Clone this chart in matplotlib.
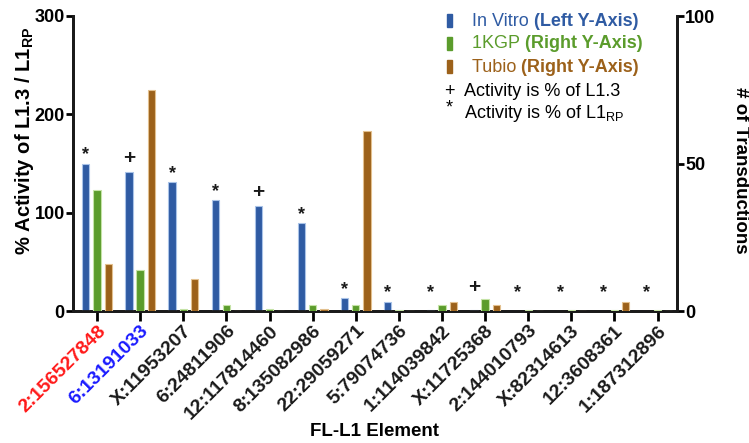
import matplotlib
matplotlib.use("Agg")
import matplotlib.pyplot as plt
import numpy as np
from matplotlib.patches import Rectangle

plt.rcParams['font.family'] = ['Liberation Sans', 'DejaVu Sans']

elements = ["2:156527848", "6:13191033", "X:11953207", "6:24811906",
            "12:117814460", "8:135082986", "22:29059271", "5:79074736",
            "1:114039842", "X:11725368", "2:144010793", "X:82314613",
            "12:3608361", "1:187312896"]
label_colors = ["#ff1a1a", "#1a1aff"] + ["#1a1a1a"] * 12

# in vitro activity (left axis, %)
in_vitro = [150, 141, 131, 113, 107, 89, 13.5, 9.5, 1.5, 1.2, 0, 0, 0, 0]
# 1KGP transductions (right axis)
kgp = [41, 14, 0.6, 2, 0.6, 2, 2, 0.4, 2, 4, 0.4, 0.4, 0.4, 0.4]
# Tubio transductions (right axis)
tubio = [16, 75, 11, 0, 0, 0.8, 61, 0, 3, 2, 0, 0, 3, 0]
# reference used for activity
marks = ["*", "+", "*", "*", "+", "*", "*", "*", "*", "+", "*", "*", "*", "*"]

blue = "#2f5ba3"
green = "#5b9c2c"
brown = "#9c611a"

fig = plt.figure(figsize=(7.49, 4.43), dpi=100)
ax = fig.add_axes([73 / 749, 1 - 311 / 443, (677 - 73) / 749, (311 - 16) / 443])
ax2 = ax.twinx()

x = np.arange(len(elements))
w = 0.17
off = 0.26

ax.bar(x - off, in_vitro, w, color=blue, edgecolor="#a9c3e8", linewidth=0.8, zorder=3)
ax2.bar(x, kgp, w, color=green, edgecolor="#c5e3a6", linewidth=0.8, zorder=3)
ax2.bar(x + off, tubio, w, color=brown, edgecolor="#e3c08e", linewidth=0.8, zorder=3)

for xi, v, m in zip(x, in_vitro, marks):
    y = max(v, 10)
    if m == "+":
        ax.annotate("+", (xi - off, y), xytext=(0, 3), textcoords="offset points",
                    ha="center", va="bottom", fontsize=15, fontweight="bold", color="#1a1a1a")
    else:
        ax.annotate("*", (xi - off, y), xytext=(0, 0), textcoords="offset points",
                    ha="center", va="bottom", fontsize=13, fontweight="bold", color="#1a1a1a")

ax.set_xlim(-0.557, 13.45)
ax.set_ylim(0, 300)
ax2.set_ylim(0, 100)
ax.set_yticks([0, 100, 200, 300])
ax2.set_yticks([0, 50, 100])

for a in (ax, ax2):
    a.spines["top"].set_visible(False)
    for s in ("left", "right", "bottom"):
        a.spines[s].set_linewidth(2)
        a.spines[s].set_color("#1a1a1a")
ax.tick_params(axis="y", length=5, width=2, labelsize=13, pad=1)
ax2.tick_params(axis="y", length=5, width=2, labelsize=13, pad=1)
for t in ax.get_yticklabels() + ax2.get_yticklabels():
    t.set_fontweight("bold")

ax.set_xticks(x)
ax.set_xticklabels(elements, rotation=45, ha="right", rotation_mode="anchor",
                   fontsize=14, fontweight="bold")
for t, c in zip(ax.get_xticklabels(), label_colors):
    t.set_color(c)
ax.tick_params(axis="x", length=7, width=2, pad=1)

fig.text(24 / 749, 1 - 141 / 443, "% Activity of L1.3 / L1$_{\\mathregular{RP}}$",
         fontsize=14.5, fontweight="bold", rotation=90, ha="center", va="center",
         rotation_mode="anchor")
fig.text(741 / 749, 1 - 170 / 443, "# of Transductions", fontsize=13.5,
         fontweight="bold", rotation=270, ha="center", va="center",
         rotation_mode="anchor")
fig.text(374 / 749, 1 - 432 / 443, "FL-L1 Element", ha="center", va="center",
         fontsize=13.5, fontweight="bold")

# legend
rows = [("In Vitro ", "(Left Y-Axis)", blue, 21),
        ("1KGP ", "(Right Y-Axis)", green, 44),
        ("Tubio ", "(Right Y-Axis)", brown, 67)]
for name, side, col, yy in rows:
    fig.patches.append(Rectangle((447 / 749, 1 - (yy + 6) / 443), 5 / 749, 13 / 443,
                                 transform=fig.transFigure, color=col))
    t = fig.text(472 / 749, 1 - yy / 443, name, color=col, fontsize=13,
                 va="center", ha="left")
    fig.canvas.draw()
    ax.annotate(side, xy=(1, 0.5), xycoords=t, va="center", ha="left",
                color=col, fontsize=13, fontweight="bold",
                annotation_clip=False)

fig.text(449 / 749, 1 - 92 / 443, "+", fontsize=13, ha="center", va="center")
fig.text(464 / 749, 1 - 92 / 443, "Activity is % of L1.3", fontsize=13, va="center")
fig.text(449 / 749, 1 - 108 / 443, "*", fontsize=13, ha="center", va="center")
fig.text(464 / 749, 1 - 113 / 443, "Activity is % of L1$_{\\mathregular{RP}}$",
         fontsize=13, va="center")

fig.savefig("out.png", dpi=100)
